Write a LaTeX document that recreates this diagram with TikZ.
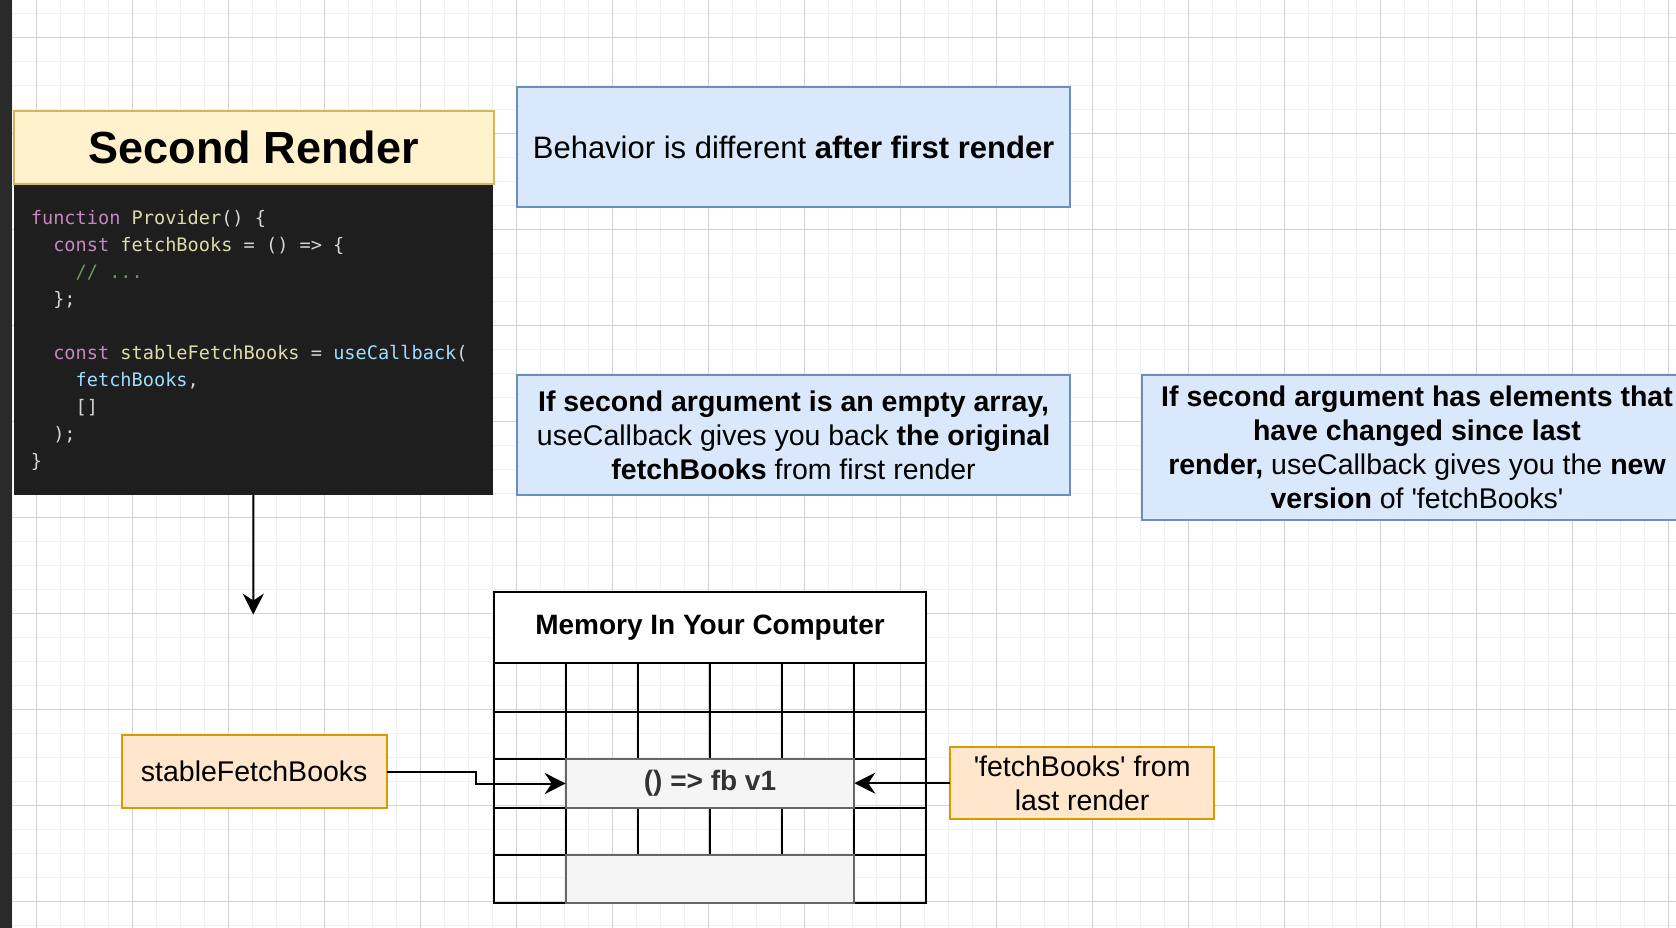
\documentclass[tikz,border=0pt]{standalone}
\usepackage{fontspec}
\setmainfont{Liberation Sans}
\newfontfamily\codefont{DejaVu Sans Mono}
\usetikzlibrary{arrows.meta,calc}
\definecolor{yfill}{HTML}{FFF2CC}
\definecolor{ydraw}{HTML}{D6B656}
\definecolor{bfill}{HTML}{DAE8FC}
\definecolor{bdraw}{HTML}{6C8EBF}
\definecolor{ofill}{HTML}{FFE6CC}
\definecolor{odraw}{HTML}{D79B00}
\definecolor{gfill}{HTML}{F5F5F5}
\definecolor{gdraw}{HTML}{666666}
\definecolor{gtext}{HTML}{333333}
\definecolor{codebgc}{HTML}{1E1E1E}
\definecolor{ckw}{HTML}{C586C0}
\definecolor{cfn}{HTML}{DCDCAA}
\definecolor{cvr}{HTML}{9CDCFE}
\definecolor{ctx}{HTML}{D4D4D4}
\definecolor{ccm}{HTML}{6A9955}
\definecolor{minorc}{HTML}{F0F0F0}
\definecolor{majorc}{HTML}{D3D3D3}
\definecolor{barc}{HTML}{2A2A2A}
\newcommand{\ckwd}[1]{\textcolor{ckw}{#1}}
\newcommand{\cfun}[1]{\textcolor{cfn}{#1}}
\newcommand{\cvar}[1]{\textcolor{cvr}{#1}}
\newcommand{\ctxt}[1]{\textcolor{ctx}{#1}}
\newcommand{\ccmt}[1]{\textcolor{ccm}{#1}}
\begin{document}
\begin{tikzpicture}[x=1pt,y=-1pt,
  minorgrid/.style={draw=minorc,line width=1pt},
  majorgrid/.style={draw=majorc,line width=1pt},
  titlebox/.style={draw=ydraw,fill=yfill,line width=2pt,inner sep=0pt,outer sep=0pt,anchor=north west,font=\fontsize{45}{54}\selectfont\bfseries},
  codebox/.style={fill=codebgc,inner sep=0pt,outer sep=0pt,anchor=north west},
  codeline/.style={anchor=base west,inner sep=0pt,font=\codefont\fontsize{18.6}{22}\selectfont,text=ctx},
  bluebox/.style={draw=bdraw,fill=bfill,line width=2pt,inner sep=0pt,outer sep=0pt,anchor=north west,align=center,font=\fontsize{28.5}{34.2}\selectfont},
  orangebox/.style={draw=odraw,fill=ofill,line width=2pt,inner sep=0pt,outer sep=0pt,anchor=north west,align=center,font=\fontsize{28.5}{34.2}\selectfont},
  cellbox/.style={draw=black,fill=white,line width=2pt,inner sep=0pt,outer sep=0pt,anchor=north west,font=\fontsize{28}{33.6}\selectfont\bfseries},
  greycell/.style={draw=gdraw,fill=gfill,line width=2pt,inner sep=0pt,outer sep=0pt,anchor=north west,text=gtext,font=\fontsize{28}{33.6}\selectfont\bfseries},
  tblline/.style={draw=black,line width=2pt},
  arr/.style={draw=black,line width=2pt,-{Stealth[length=21pt,width=21pt,inset=7pt]}}
]
\useasboundingbox (0,0) rectangle (1676,928);
\fill[white] (0,0) rectangle (1676,928);
% grid
\foreach \i in {0,...,69} \draw[minorgrid] ({12.3+24*\i},0) -- ({12.3+24*\i},928);
\foreach \j in {0,...,38} \draw[minorgrid] (0,{13.3+24*\j}) -- (1676,{13.3+24*\j});
\foreach \i in {0,...,17} \draw[majorgrid] ({36.3+96*\i},0) -- ({36.3+96*\i},928);
\foreach \j in {0,...,9} \draw[majorgrid] (0,{37.3+96*\j}) -- (1676,{37.3+96*\j});
\fill[barc] (0,0) rectangle (12,928);

% code block and title
\node[codebox,minimum width=478.8pt,minimum height=311.1pt] (code) at (13.9,183.8) {};
\node[titlebox,minimum width=479.9pt,minimum height=72.8pt] (title) at (13.9,111) {Second Render};
\node[codeline] (c1) at (30.7,225) {\ckwd{function} \cfun{Provider}\ctxt{() \{}};
\node[codeline] (c2) at (53.1,251.9) {\ckwd{const} \cfun{fetchBooks} \ctxt{= () => \{}};
\node[codeline] (c3) at (75.5,278.8) {\ccmt{// ...}};
\node[codeline] (c4) at (53.1,305.7) {\ctxt{\};}};
\node[codeline] (c6) at (53.1,359.5) {\ckwd{const} \cfun{stableFetchBooks} \ctxt{=} \cvar{useCallback}\ctxt{(}};
\node[codeline] (c7) at (75.5,386.4) {\cvar{fetchBooks}\ctxt{,}};
\node[codeline] (c8) at (75.5,413.3) {\ctxt{[]}};
\node[codeline] (c9) at (53.1,440.2) {\ctxt{);}};
\node[codeline] (c10) at (30.7,467.1) {\ctxt{\}}};

\coordinate (arrowend) at (253.3,614.6);
\draw[arr] (code.south) -- (arrowend);

% blue notes
\node[bluebox,minimum width=552.6pt,minimum height=120.8pt,font=\fontsize{31}{37}\selectfont] (b1) at (517.3,86.6) {Behavior is different \textbf{after first render}};
\node[bluebox,minimum width=552.6pt,minimum height=119.7pt] (b2) at (517.3,375.2) {\textbf{If second argument is an empty array,}\\useCallback gives you back \textbf{the original}\\\textbf{fetchBooks} from first render};
\node[bluebox,minimum width=551pt,minimum height=144.3pt] (b3) at (1141.5,375.2) {\textbf{If second argument has elements that}\\\textbf{have changed since last}\\\textbf{render,} useCallback gives you the \textbf{new}\\\textbf{version} of \textquotesingle fetchBooks\textquotesingle};

% memory table
\node[cellbox,minimum width=432pt,minimum height=71.6pt] (mem) at (494,591.7) {Memory In Your Computer};
\draw[tblline] (494,663.3) rectangle (926,902.7);
\foreach \yy in {711.7,759.3,807.7,855.3} \draw[tblline] (494,\yy) -- (926,\yy);
\foreach \xx in {565.7,638,710,782.3,854.3} {
  \draw[tblline] (\xx,663.3) -- (\xx,759.3);
  \draw[tblline] (\xx,807.7) -- (\xx,855.3);
}
\draw[tblline] (565.7,759.3) -- (565.7,902.7);
\draw[tblline] (854.3,759.3) -- (854.3,902.7);
\node[greycell,minimum width=288.6pt,minimum height=48.4pt] (fbv1) at (565.7,759.3) {() => fb v1};
\node[greycell,minimum width=288.6pt,minimum height=47.4pt] (gempty) at (565.7,855.3) {};

% orange labels
\node[orangebox,minimum width=265pt,minimum height=73.3pt] (sfb) at (121.7,735) {stableFetchBooks};
\node[orangebox,minimum width=264.3pt,minimum height=71.7pt] (flr) at (950,747.3) {\textquotesingle fetchBooks\textquotesingle{} from\\last render};

\draw[arr] (sfb.east) -- ++(89.3,0) |- (fbv1.west);
\draw[arr] (flr.west) -- (flr.west -| fbv1.east);
\end{tikzpicture}
\end{document}
